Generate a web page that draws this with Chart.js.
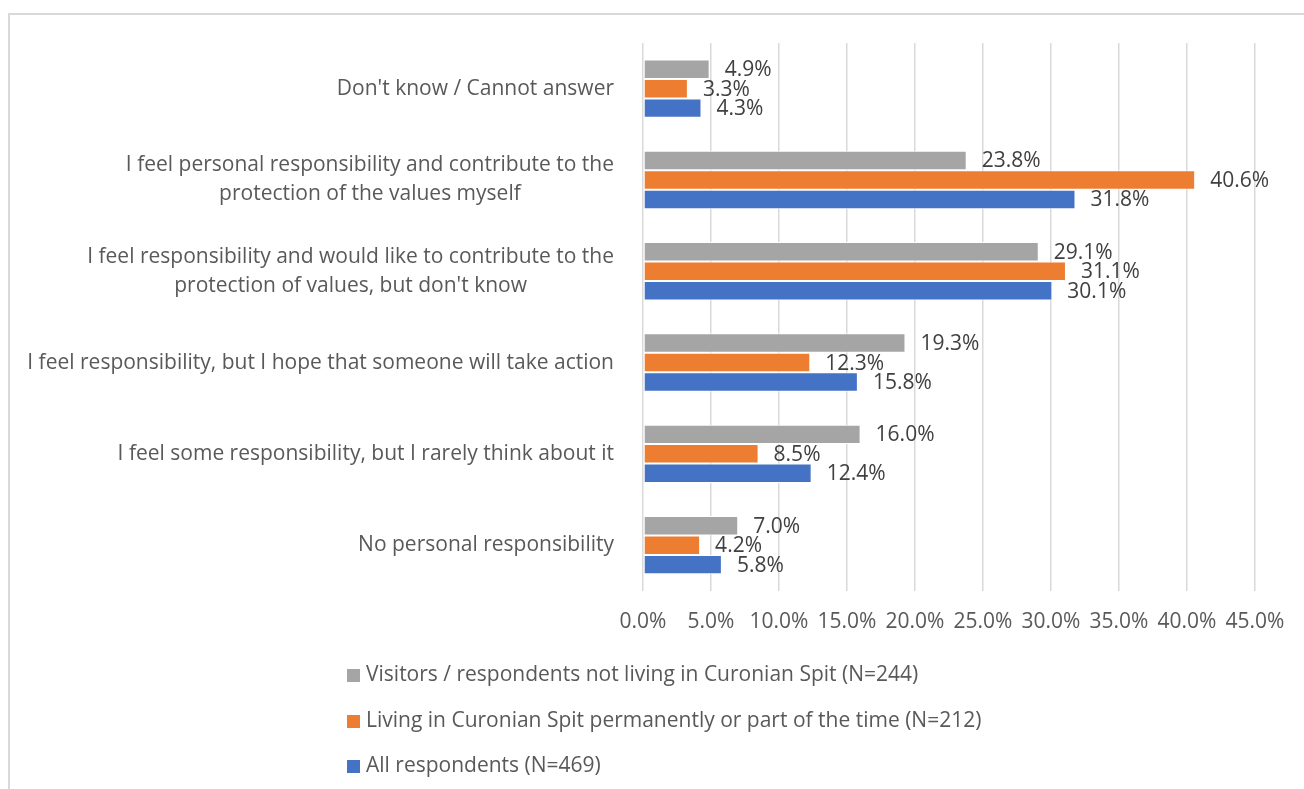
<!DOCTYPE html>
<html>
<head>
<meta charset="utf-8">
<script src="https://cdn.jsdelivr.net/npm/chart.js@4/dist/chart.umd.min.js"></script>
<style>
  body { margin: 0; background: #fff; font-family: 'Open Sans', sans-serif; }
  #wrap { position: relative; width: 1304px; height: 789px; overflow: hidden; }
  #frame { position: absolute; left: 8px; top: 13px; width: 1400px; height: 900px;
           border-left: 2px solid #d9d9d9; border-top: 2px solid #d9d9d9; }
  #legend { position: absolute; left: 347px; top: 0; }
  .lg-item { position: absolute; left: 0; white-space: nowrap; font-size: 21px; color: #595959;
             line-height: 24px; }
  .lg-box { display: inline-block; width: 13px; height: 13px; margin-right: 6px; vertical-align: -1px; }
</style>
</head>
<body>
<div id="wrap">
  <div id="frame"></div>
  <canvas id="chart"></canvas>
  <div id="legend"></div>
</div>
<script>
// ─── Data ─────────────────────────────────────────────────────────────
const categories = [
  "Don't know / Cannot answer",
  ['I feel personal responsibility and contribute to the', 'protection of the values myself'],
  ['I feel responsibility and would like to contribute to the', "protection of values, but don't know"],
  'I feel responsibility, but I hope that someone will take action',
  'I feel some responsibility, but I rarely think about it',
  'No personal responsibility'
];
const seriesNames = [
  'Visitors / respondents not living in Curonian Spit (N=244)',
  'Living in Curonian Spit permanently or part of the time (N=212)',
  'All respondents (N=469)'
];
const visitors = [4.9, 23.8, 29.1, 19.3, 16.0, 7.0];
const residents = [3.3, 40.6, 31.1, 12.3, 8.5, 4.2];
const allResp = [4.3, 31.8, 30.1, 15.8, 12.4, 5.8];
const xTicks = [0, 5, 10, 15, 20, 25, 30, 35, 40, 45];
const seriesColors = ['#a5a5a5', '#ed7d31', '#4472c4'];

const FONT = "'Open Sans', sans-serif";

// ─── Plugin: category labels + value labels ───────────────────────────
const labelPlugin = {
  id: 'labelPlugin',
  afterDatasetsDraw(chart) {
    const ctx = chart.ctx;
    const yScale = chart.scales.y;
    ctx.save();
    ctx.font = '21px ' + FONT;
    ctx.textBaseline = 'middle';

    // category labels, right edge at 614, wrapped lines centered on each other
    ctx.fillStyle = '#595959';
    ctx.textAlign = 'center';
    categories.forEach((lab, i) => {
      const lines = Array.isArray(lab) ? lab : [lab];
      const maxW = Math.max(...lines.map(l => ctx.measureText(l).width));
      const cx = chart.chartArea.left - 29 - maxW / 2;
      const cy = yScale.getPixelForTick(i);
      const lh = 29;
      lines.forEach((l, j) => {
        ctx.fillText(l, cx, cy + (j - (lines.length - 1) / 2) * lh);
      });
    });

    // value labels right of each bar
    ctx.fillStyle = '#404040';
    ctx.textAlign = 'left';
    chart.data.datasets.forEach((ds, di) => {
      chart.getDatasetMeta(di).data.forEach((bar, i) => {
        ctx.fillText(ds.data[i].toFixed(1) + '%', bar.x + 15, bar.y + 1);
      });
    });
    ctx.restore();
  }
};

const datasets = [visitors, residents, allResp].map((vals, i) => ({
  label: seriesNames[i],
  data: vals,
  backgroundColor: seriesColors[i],
  borderColor: '#ffffff',
  borderWidth: 1,
  borderSkipped: false,
  categoryPercentage: 0.64,
  barPercentage: 1
}));

new Chart(document.getElementById('chart'), {
  type: 'bar',
  data: { labels: categories, datasets },
  options: {
    indexAxis: 'y',
    responsive: true,
    maintainAspectRatio: false,
    animation: false,
    layout: { padding: { left: 643, right: 49, top: 43, bottom: 135 } },
    plugins: {
      legend: { display: false },
      tooltip: { enabled: false }
    },
    scales: {
      x: {
        min: 0,
        max: 45,
        afterBuildTicks: (axis) => { axis.ticks = xTicks.map(v => ({ value: v })); },
        ticks: {
          padding: 19,
          color: '#595959',
          font: { family: FONT, size: 21 },
          callback: (v) => Number(v).toFixed(1) + '%'
        },
        grid: { color: '#d9d9d9', lineWidth: 1.5, drawTicks: false },
        border: { display: false }
      },
      y: { display: false }
    }
  },
  plugins: [labelPlugin]
});

// ─── Legend (vertical, below the plot) ────────────────────────────────
const legendEl = document.getElementById('legend');
const legendY = [673, 719, 764];
seriesNames.forEach((name, i) => {
  const item = document.createElement('div');
  item.className = 'lg-item';
  item.style.top = (legendY[i] - 12) + 'px';
  item.innerHTML = '<span class="lg-box" style="background:' + seriesColors[i] + '"></span>';
  item.appendChild(document.createTextNode(name));
  legendEl.appendChild(item);
});
</script>
</body>
</html>
